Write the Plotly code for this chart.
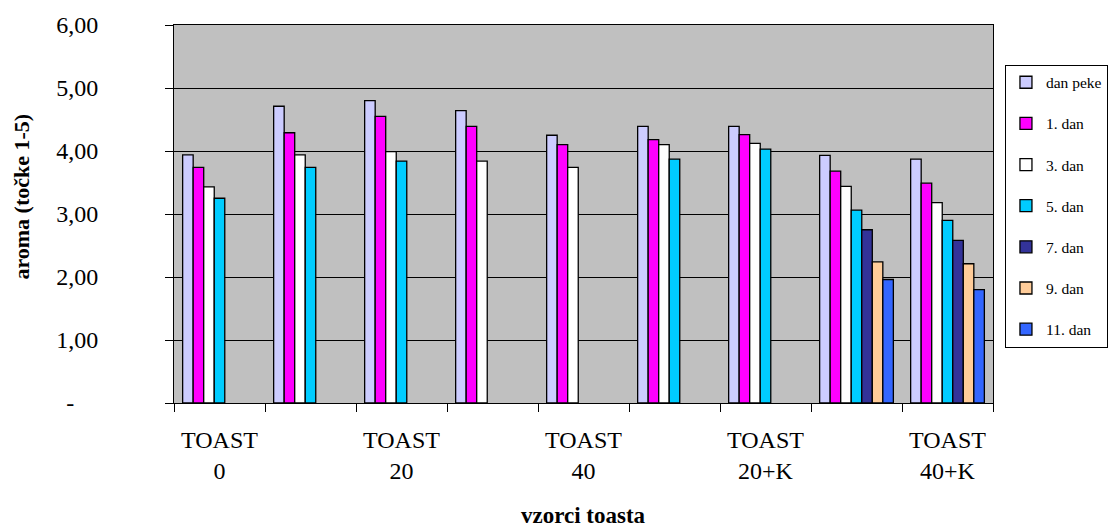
import plotly.graph_objects as go

# Toast samples (every second label is shown on the axis)
categories = ["TOAST 0", "TOAST 10", "TOAST 20", "TOAST 30", "TOAST 40",
              "TOAST 10+K", "TOAST 20+K", "TOAST 30+K", "TOAST 40+K"]
shown_labels = ["TOAST<br>0", "", "TOAST<br>20", "", "TOAST<br>40",
                "", "TOAST<br>20+K", "", "TOAST<br>40+K"]

# Aroma score (points 1-5) per storage day
dan_peke = [3.94, 4.71, 4.80, 4.64, 4.25, 4.39, 4.39, 3.93, 3.87]
dan_1 = [3.74, 4.29, 4.55, 4.39, 4.10, 4.18, 4.26, 3.68, 3.49]
dan_3 = [3.43, 3.94, 3.99, 3.84, 3.74, 4.10, 4.12, 3.44, 3.18]
dan_5 = [3.25, 3.74, 3.84, None, None, 3.87, 4.03, 3.06, 2.90]
dan_7 = [None, None, None, None, None, None, None, 2.75, 2.58]
dan_9 = [None, None, None, None, None, None, None, 2.24, 2.21]
dan_11 = [None, None, None, None, None, None, None, 1.96, 1.80]

series = [
    ("dan peke", dan_peke, "#CCCCFF"),
    ("1. dan", dan_1, "#FF00FF"),
    ("3. dan", dan_3, "#FFFFFF"),
    ("5. dan", dan_5, "#00CCFF"),
    ("7. dan", dan_7, "#333399"),
    ("9. dan", dan_9, "#FFCC99"),
    ("11. dan", dan_11, "#3366FF"),
]

y_ticks = [0, 1, 2, 3, 4, 5, 6]
y_ticktext = ["-\u00a0\u00a0\u00a0\u00a0", "1,00", "2,00", "3,00", "4,00", "5,00", "6,00"]

FONT = "Liberation Serif, Times New Roman, serif"

fig = go.Figure()
for i, (name, vals, color) in enumerate(series):
    fig.add_trace(go.Bar(
        name=name, x=categories, y=vals,
        marker=dict(color=color, line=dict(color="black", width=1.3)),
        legendgroup=f"g{i}",
    ))

fig.update_layout(
    width=1120, height=531,
    margin=dict(l=174, r=124, t=22, b=128),
    paper_bgcolor="white",
    plot_bgcolor="#C0C0C0",
    barmode="group",
    bargap=0.19,
    bargroupgap=0,
    font=dict(family=FONT, color="black", size=24),
    showlegend=True,
    legend=dict(
        x=1.0146, y=0.895, xanchor="left", yanchor="top",
        bgcolor="white", bordercolor="black", borderwidth=1,
        font=dict(family=FONT, size=15.5, color="black"),
        itemwidth=30, tracegroupgap=18,
    ),
    xaxis=dict(
        type="category",
        tickmode="array", tickvals=categories, ticktext=shown_labels,
        tickson="boundaries",
        ticks="outside", ticklen=8, tickcolor="black", tickwidth=1,
        showline=True, linecolor="black", linewidth=1, mirror=True,
        showgrid=False,
        ticklabelstandoff=15,
        tickfont=dict(family=FONT, size=24),
    ),
    yaxis=dict(
        range=[0, 6],
        tickmode="array", tickvals=y_ticks, ticktext=y_ticktext,
        ticks="outside", ticklen=8, tickcolor="black", tickwidth=1,
        showline=True, linecolor="black", linewidth=1, mirror=True,
        showgrid=True, gridcolor="black", gridwidth=1,
        zeroline=False,
        ticklabelstandoff=62,
        tickfont=dict(family=FONT, size=24),
    ),
    annotations=[
        dict(text="<b>aroma (točke 1-5)</b>", textangle=-90,
             xref="paper", yref="paper", x=0, y=0.546,
             xanchor="center", yanchor="middle", xshift=-152,
             showarrow=False, font=dict(family=FONT, size=22)),
        dict(text="<b>vzorci toasta</b>",
             xref="paper", yref="paper", x=0.5, y=0,
             xanchor="center", yanchor="bottom", yshift=-127,
             showarrow=False, font=dict(family=FONT, size=23)),
    ],
)

fig.write_html("out.html")
